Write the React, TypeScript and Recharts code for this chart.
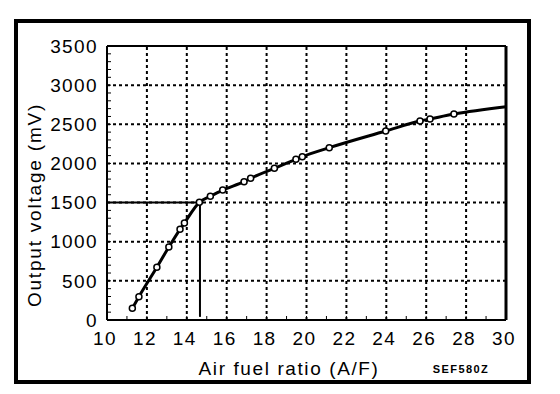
import { LineChart, Line, XAxis, YAxis, ReferenceLine } from 'recharts';

// Sensor curve: air fuel ratio vs output voltage (mV)
const afRatio = [11.27, 11.6, 12.5, 13.1, 13.66, 13.88, 14.63, 15.18, 15.8, 16.87, 17.2, 18.39, 19.47, 19.79, 21.14, 23.97, 25.69, 26.19, 27.39];
const outputMv = [149, 298, 673, 932, 1158, 1239, 1503, 1580, 1660, 1767, 1810, 1938, 2052, 2086, 2201, 2414, 2542, 2568, 2631];
// the curve keeps going to the right edge, no marker there
const curveEnd = { af: 30, mv: 2725 };

const xMajor = [10, 12, 14, 16, 18, 20, 22, 24, 26, 28, 30];
const xMinor = Array.from({ length: 21 }, (_, i) => 10 + i);
const yMajor = [0, 500, 1000, 1500, 2000, 2500, 3000, 3500];
const yMinor = Array.from({ length: 36 }, (_, i) => i * 100);

const stoich = { af: 14.66, mv: 1500 };

const markers = afRatio.map((af, i) => ({ af, mv: outputMv[i] }));
const curve = [...markers, curveEnd];

const FONT = '"Liberation Sans", Arial, sans-serif';

const XTick = ({ x, y, payload }: any) => {
  if (!xMajor.includes(payload.value)) return <g />;
  return (
    <text x={x - 2} y={y} dy="0.71em" textAnchor="middle" fontFamily={FONT} fontSize={19} letterSpacing={1.4} fill="#000">
      {payload.value}
    </text>
  );
};

const YTick = ({ x, y, payload }: any) => {
  if (!yMajor.includes(payload.value)) return <g />;
  return (
    <text x={x} y={y} dy="0.355em" textAnchor="end" fontFamily={FONT} fontSize={19} letterSpacing={1.4} fill="#000">
      {payload.value}
    </text>
  );
};

const dash = { stroke: '#000', strokeWidth: 2, strokeDasharray: '3 3' };

export default function App() {
  return (
    <div style={{ position: 'absolute', left: 0, top: 0, width: 560, height: 394, background: '#fff' }}>
      <div
        style={{
          position: 'absolute',
          left: 14,
          top: 19,
          width: 517,
          height: 365,
          border: '4px solid #000',
          boxSizing: 'border-box',
        }}
      />
      <div style={{ position: 'absolute', left: 0, top: 0 }}>
        <LineChart width={560} height={394} margin={{ top: 46, right: 54, bottom: 44, left: 47 }}>
          <XAxis
            dataKey="af"
            type="number"
            domain={[10, 30]}
            ticks={xMinor}
            interval={0}
            tick={<XTick />}
            tickSize={-4}
            tickMargin={16}
            height={30}
            axisLine={{ stroke: '#000', strokeWidth: 2 }}
            tickLine={{ stroke: '#000', strokeWidth: 1 }}
          />
          <YAxis
            type="number"
            domain={[0, 3500]}
            ticks={yMinor}
            interval={0}
            tick={<YTick />}
            tickSize={-4}
            tickMargin={13}
            width={60}
            axisLine={{ stroke: '#000', strokeWidth: 2 }}
            tickLine={{ stroke: '#000', strokeWidth: 1 }}
          />
          {xMajor.slice(1, -1).map((v) => (
            <ReferenceLine key={'vx' + v} x={v} {...dash} />
          ))}
          {yMajor.slice(1, -1).map((v) => (
            <ReferenceLine key={'hy' + v} y={v} {...dash} />
          ))}
          <ReferenceLine y={3500} stroke="#000" strokeWidth={2} />
          <ReferenceLine x={30} stroke="#000" strokeWidth={3} />
          <ReferenceLine
            segment={[{ x: 10, y: stoich.mv }, { x: stoich.af, y: stoich.mv }]}
            stroke="#000"
            strokeWidth={2}
          />
          <ReferenceLine
            segment={[{ x: stoich.af, y: stoich.mv }, { x: stoich.af, y: 40 }]}
            stroke="#000"
            strokeWidth={2}
          />
          <Line
            data={curve}
            dataKey="mv"
            type="monotone"
            stroke="#000"
            strokeWidth={3}
            dot={false}
            isAnimationActive={false}
          />
          <Line
            data={markers}
            dataKey="mv"
            stroke="none"
            dot={{ r: 3, fill: '#fff', stroke: '#000', strokeWidth: 1.5 }}
            activeDot={false}
            isAnimationActive={false}
          />
        </LineChart>
      </div>
      <svg width={560} height={394} style={{ position: 'absolute', left: 0, top: 0, pointerEvents: 'none' }}>
        <text x={41} y={205} transform="rotate(-90 41 205)" textAnchor="middle" fontFamily={FONT} fontSize={19} letterSpacing={1.8} fill="#000">
          Output voltage (mV)
        </text>
        <text x={289} y={375} textAnchor="middle" fontFamily={FONT} fontSize={19} letterSpacing={1.6} fill="#000">
          Air fuel ratio (A/F)
        </text>
        <text x={461} y={373} textAnchor="middle" fontFamily={FONT} fontSize={11} fontWeight="bold" letterSpacing={1.4} fill="#000">
          SEF580Z
        </text>
      </svg>
    </div>
  );
}
